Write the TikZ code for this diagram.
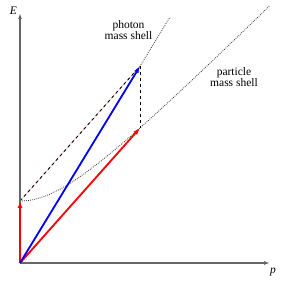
\documentclass[tikz,border=0pt]{standalone}
\usepackage{fontspec}
\setmainfont{Liberation Serif}
\usetikzlibrary{arrows.meta}
\begin{document}
\begin{tikzpicture}[x=1pt,y=1pt,
  axis/.style={draw=black!60,line width=1.5pt,-{Latex[length=6pt,width=4pt]}},
  vec/.style={line width=1.8pt,-{Latex[length=7pt,width=5pt]}},
  shell/.style={line width=0.8pt,dash pattern=on 0.8pt off 1.2pt,draw=black!80},
  guide/.style={line width=0.9pt,dash pattern=on 3pt off 3pt},
  lbl/.style={font=\fontsize{11.5}{11.5}\selectfont,align=center}]
\useasboundingbox (-20,-21) rectangle (264,263);
\coordinate (O) at (0,0);
\coordinate (M) at (0,62);
\coordinate (A) at (120,135);
\coordinate (B) at (120,196.8);
\coordinate (Etip) at (0,250);
\coordinate (ptip) at (250,0);
\coordinate (Ph) at (150,246);
% mass shells
\draw[shell] plot[domain=0:25,samples=80] ({10*\x},{10*sqrt(6.2*6.2+\x*\x)});
\draw[shell] (O) -- (Ph);
% guides
\draw[red!35,line width=0.4pt] (M) -- (B);
\draw[guide] (M) -- (B);
\draw[guide] (B) -- (A);
% axes
\draw[axis] (O) -- (Etip);
\draw[axis] (O) -- (ptip);
\node[font=\fontsize{11.5}{12}\selectfont] (El) at (-6.5,252.5) {\textit{E}};
\node[font=\fontsize{11.5}{12}\selectfont] (pl) at (253,-9) {\textit{p}};
% vectors
\draw[vec,red] (O) -- (M);
\draw[vec,red] (O) -- (A);
\draw[vec,blue] (O) -- (B);
% labels
\node[lbl] (phl) at (108.5,233) {photon\\mass shell};
\node[lbl] (pal) at (214,186) {particle\\mass shell};
\end{tikzpicture}
\end{document}
